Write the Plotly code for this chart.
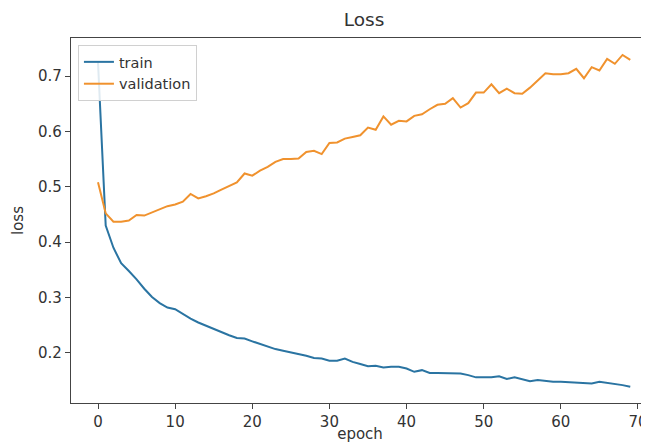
import plotly.graph_objects as go

epochs = list(range(70))

train_loss = [
    0.725, 0.430, 0.390, 0.362, 0.348, 0.333, 0.316, 0.301, 0.290, 0.282,
    0.279, 0.270, 0.262, 0.255, 0.249, 0.243, 0.237, 0.232, 0.227, 0.226,
    0.221, 0.216, 0.211, 0.207, 0.204, 0.201, 0.199, 0.195, 0.191, 0.190,
    0.186, 0.186, 0.190, 0.184, 0.180, 0.176, 0.177, 0.174, 0.175, 0.175,
    0.172, 0.166, 0.169, 0.164, 0.164, 0.164, 0.163, 0.163, 0.160, 0.156,
    0.156, 0.156, 0.158, 0.153, 0.156, 0.152, 0.149, 0.151, 0.149, 0.148,
    0.148, 0.147, 0.147, 0.146, 0.145, 0.148, 0.146, 0.145, 0.142, 0.139,
]

val_loss = [
    0.508, 0.452, 0.437, 0.437, 0.439, 0.449, 0.448, 0.454, 0.459, 0.465,
    0.468, 0.473, 0.487, 0.479, 0.483, 0.488, 0.495, 0.502, 0.508, 0.524,
    0.520, 0.529, 0.536, 0.545, 0.550, 0.550, 0.551, 0.563, 0.565, 0.559,
    0.579, 0.580, 0.587, 0.590, 0.593, 0.607, 0.603, 0.627, 0.612, 0.619,
    0.618, 0.628, 0.631, 0.640, 0.648, 0.650, 0.660, 0.643, 0.651, 0.670,
    0.670, 0.685, 0.669, 0.677, 0.669, 0.668, 0.679, 0.692, 0.705, 0.703,
    0.703, 0.705, 0.713, 0.696, 0.716, 0.710, 0.731, 0.722, 0.738, 0.729,
]

x_ticks = [0, 10, 20, 30, 40, 50, 60, 70]
y_ticks = [0.2, 0.3, 0.4, 0.5, 0.6, 0.7]
y_tick_labels = ["0.2", "0.3", "0.4", "0.5", "0.6", "0.7"]

FONT = "DejaVu Sans"
TXT = "#333333"

# the page body has an 8px margin, so the figure is 8px smaller than the window
W, H = 641, 435

fig = go.Figure()
fig.add_trace(go.Scatter(x=epochs, y=train_loss, mode="lines", name="train",
                         line=dict(color="#2a74a2", width=2)))
fig.add_trace(go.Scatter(x=epochs, y=val_loss, mode="lines", name="validation",
                         line=dict(color="#f0922e", width=2)))

fig.update_layout(
    template="none",
    width=W, height=H,
    margin=dict(l=63, r=0, t=30, b=40, autoexpand=False),
    paper_bgcolor="white", plot_bgcolor="white",
    font=dict(family=FONT, color=TXT, size=15),
    title=dict(text="Loss", x=(364 - 8) / W, xref="container", xanchor="center",
               y=1 - 12 / H, yref="container", yanchor="middle",
               font=dict(family=FONT, size=18.5, color=TXT)),
    legend=dict(x=0.012, y=0.981, xanchor="left", yanchor="top",
                bgcolor="rgba(255,255,255,0.85)", bordercolor="#d0d0d0",
                borderwidth=1, font=dict(family=FONT, size=14.5, color=TXT),
                tracegroupgap=0),
    showlegend=True,
)

fig.update_xaxes(
    range=[-3.5, 71.43], tickvals=x_ticks, ticks="outside", ticklen=5,
    tickwidth=1.2, tickcolor="#444", showgrid=False, zeroline=False,
    showline=True, linecolor="#444", linewidth=1.3, mirror=True,
    tickfont=dict(family=FONT, size=15, color=TXT),
    ticklabeloverflow="allow",
    title=dict(text="epoch", standoff=7, font=dict(family=FONT, size=15, color=TXT)),
    automargin=False,
)
fig.update_yaxes(
    range=[0.1097, 0.7686], tickvals=y_ticks, ticktext=y_tick_labels,
    ticks="outside", ticklen=5, tickwidth=1.2, tickcolor="#444",
    showgrid=False, zeroline=False, showline=True, linecolor="#444",
    linewidth=1.3, mirror=False,
    tickfont=dict(family=FONT, size=15, color=TXT),
    title=dict(text="loss", standoff=10, font=dict(family=FONT, size=15, color=TXT)),
    automargin=False,
)

fig.write_html("out.html")
